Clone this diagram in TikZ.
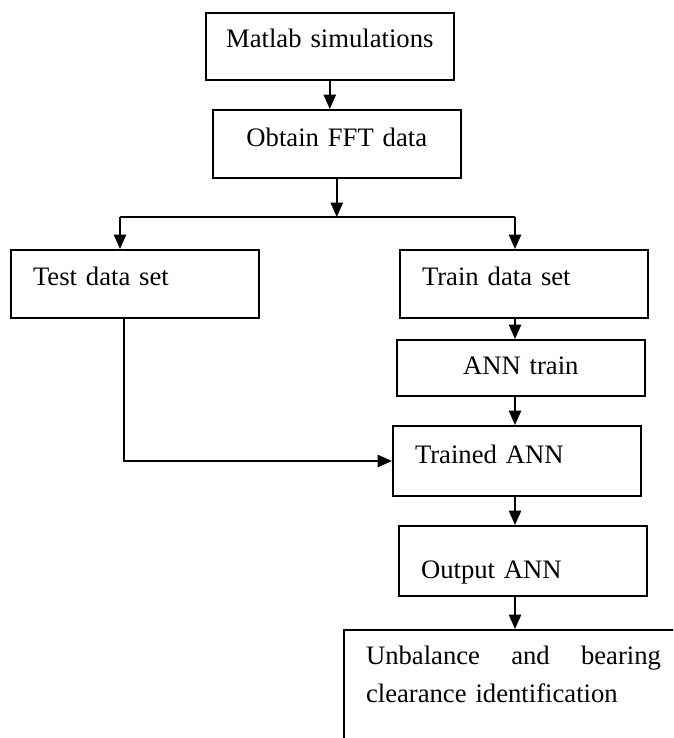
\documentclass[tikz,border=0pt]{standalone}
\usepackage{fontspec}
\setmainfont{Liberation Serif}
\usetikzlibrary{arrows.meta, calc}
\tikzset{
  box/.style={rectangle, draw=black, line width=0.9pt, inner sep=0pt,
              minimum width=111.4pt, text width=91.6pt, align=left,
              font=\fontsize{12}{17.5}\selectfont},
  cbox/.style={box, text width=105pt, align=center},
  arrow/.style={-{Triangle[length=6.5pt,width=5.5pt]}, line width=0.9pt},
  line/.style={line width=0.9pt},
}
\begin{document}
\begin{tikzpicture}[x=0.45pt, y=-0.45pt]
  \clip (0,0) rectangle (673,738);

  \node[cbox, anchor=north west, text height=15.3pt, text depth=14.85pt] (sim) at (205,12) {Matlab simulations};
  \node[cbox, anchor=north west, text height=16.2pt, text depth=14.4pt] (fft) at (212,109) {Obtain FFT data};

  \node[box, anchor=north west, text height=15.75pt, text depth=14.85pt] (test) at (10,249) {Test data set};
  \node[box, anchor=north west, text height=15.75pt, text depth=14.85pt] (train) at (399,249) {Train data set};
  \node[cbox, anchor=north west, text height=15.3pt, text depth=9.9pt] (anntr) at (396,339) {ANN train};
  \node[box, anchor=north west, text height=16.65pt, text depth=14.85pt] (trained) at (392,425) {Trained ANN};
  \node[box, anchor=north west, text height=23.4pt, text depth=8.1pt] (out) at (398,525) {Output ANN};
  \node[box, anchor=north west, minimum width=0pt, inner xsep=9.9pt, text width=132.75pt,
        text height=15.3pt, text depth=60pt] (ident) at (343,629)
        {Unbalance\hfill and\hfill bearing\\ clearance identification};

  \coordinate (sl) at (120,217);
  \coordinate (sr) at (515,217);

  \draw[arrow] (sim.south) -- (sim.south |- fft.north);
  \draw[arrow] (fft.south) -- (fft.south |- sl);
  \draw[line] (sl) -- (sr);
  \draw[arrow] (sl) -- (sl |- test.north);
  \draw[arrow] (sr) -- (sr |- train.north);
  \draw[arrow] (sr |- train.south) -- (sr |- anntr.north);
  \draw[arrow] (sr |- anntr.south) -- (sr |- trained.north);
  \draw[arrow] (sr |- trained.south) -- (sr |- out.north);
  \draw[arrow] (sr |- out.south) -- (sr |- ident.north);
  \draw[arrow] ($(test.south)+(-11,0)$) |- (trained.west);
\end{tikzpicture}
\end{document}
